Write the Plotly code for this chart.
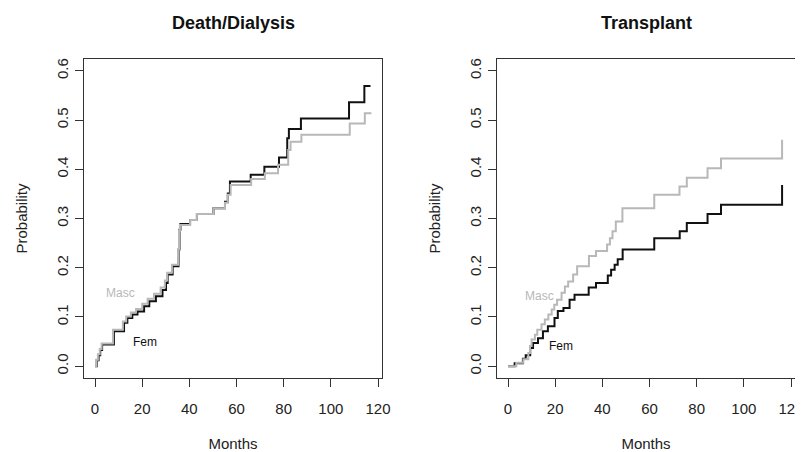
import plotly.graph_objects as go

# ---- Data ----
# Left panel: Death/Dialysis, cumulative probability step functions
dd_fem_t = [0, 0.7, 1.5, 2.2, 3.0, 8.0, 12.3, 13.7, 15.8, 18.0, 20.8, 23.0, 25.8, 28.6,
            30.1, 30.8, 32.9, 35.4, 35.8, 36.2, 40.3, 43.2, 50.2, 55.1, 56.3, 57.2,
            66.0, 71.8, 78.0, 81.5, 82.2, 87.3, 107.7, 114.2]
dd_fem_p = [0, 0.012, 0.022, 0.033, 0.044, 0.071, 0.088, 0.098, 0.105, 0.111, 0.122, 0.132,
            0.142, 0.155, 0.169, 0.186, 0.203, 0.237, 0.277, 0.289, 0.297, 0.309, 0.321,
            0.334, 0.351, 0.375, 0.389, 0.405, 0.424, 0.463, 0.482, 0.503, 0.536, 0.569]
dd_fem_end = 116.8

dd_masc_t = [0, 0.5, 1.2, 2.0, 2.8, 7.6, 11.8, 13.2, 15.2, 17.4, 20.0, 22.3, 25.0, 27.8,
             29.6, 30.6, 32.6, 35.2, 35.6, 36.0, 40.3, 43.2, 50.2, 55.1, 56.3, 57.5,
             66.2, 72.0, 77.6, 81.9, 82.9, 87.5, 108.0, 114.4]
dd_masc_p = [0, 0.013, 0.024, 0.035, 0.046, 0.074, 0.091, 0.101, 0.109, 0.116, 0.127, 0.137,
             0.147, 0.160, 0.174, 0.190, 0.206, 0.237, 0.275, 0.287, 0.297, 0.309, 0.321,
             0.332, 0.348, 0.368, 0.380, 0.392, 0.409, 0.439, 0.456, 0.470, 0.493, 0.514]
dd_masc_end = 117.2

# Right panel: Transplant
tx_fem_t = [0, 2.8, 6.3, 7.5, 9.4, 10.6, 12.7, 14.8, 16.9, 19.7, 21.1, 23.5, 26.1, 28.2,
            34.2, 37.3, 42.3, 43.7, 45.2, 46.5, 48.6, 62.0, 72.8, 75.8, 84.6, 90.3, 116.2]
tx_fem_p = [0, 0.006, 0.015, 0.022, 0.037, 0.047, 0.057, 0.071, 0.081, 0.098, 0.112, 0.118,
            0.135, 0.145, 0.160, 0.169, 0.184, 0.196, 0.206, 0.217, 0.237, 0.260, 0.274,
            0.291, 0.309, 0.328, 0.368]
tx_fem_end = 116.2

tx_masc_t = [0, 3.5, 6.5, 8.6, 9.3, 10.0, 11.4, 12.4, 14.2, 15.6, 17.1, 18.5, 19.6, 20.8,
             22.7, 24.1, 25.5, 27.6, 29.3, 34.3, 37.3, 42.0, 43.2, 44.3, 45.7, 48.5, 62.0,
             72.7, 75.8, 84.6, 90.3, 116.2]
tx_masc_p = [0, 0.007, 0.014, 0.027, 0.041, 0.054, 0.064, 0.074, 0.085, 0.095, 0.105, 0.115,
             0.125, 0.135, 0.149, 0.162, 0.172, 0.186, 0.203, 0.224, 0.234, 0.247, 0.260,
             0.274, 0.294, 0.321, 0.348, 0.365, 0.383, 0.402, 0.422, 0.460]
tx_masc_end = 116.2

panel_titles = ["Death/Dialysis", "Transplant"]
group_labels = ["Fem", "Masc"]
x_ticks = [0, 20, 40, 60, 80, 100, 120]
y_ticks = [0.0, 0.1, 0.2, 0.3, 0.4, 0.5, 0.6]
y_tick_text = ["0.0", "0.1", "0.2", "0.3", "0.4", "0.5", "0.6"]

# label positions (data coords) for the in-plot group labels
label_pos = {
    ("x", "Masc"): (11.0, 0.149), ("x", "Fem"): (21.2, 0.050),
    ("x2", "Masc"): (13.4, 0.143), ("x2", "Fem"): (22.3, 0.040),
}

FEM_COL = "#111111"
MASC_COL = "#b8b8b8"
FONT = "Liberation Sans, Arial, Helvetica, sans-serif"

# The page body has an 8px default margin, so the figure is 8px smaller on each axis
# and all positions are expressed relative to the figure's own origin.
OFF = 8
W, H = 803 - OFF, 452 - OFF


def ext(t, p, end):
    t = list(t)
    p = list(p)
    if end > t[-1]:
        t.append(end)
        p.append(p[-1])
    return t, p


fig = go.Figure()
panels = [
    ("x", "y", (dd_fem_t, dd_fem_p, dd_fem_end), (dd_masc_t, dd_masc_p, dd_masc_end)),
    ("x2", "y2", (tx_fem_t, tx_fem_p, tx_fem_end), (tx_masc_t, tx_masc_p, tx_masc_end)),
]
for xa, ya, fem, masc in panels:
    for (t, p, e), col in [(fem, FEM_COL), (masc, MASC_COL)]:
        tt, pp = ext(t, p, e)
        fig.add_trace(go.Scatter(x=tt, y=pp, mode="lines", line=dict(color=col, width=2, shape="hv"),
                                 xaxis=xa, yaxis=ya, showlegend=False, hoverinfo="skip"))

xr = [-4.68, 121.68]
yr = [-0.024, 0.624]
common_x = dict(range=xr, tickvals=x_ticks, ticks="outside", ticklen=8, tickwidth=1, tickcolor="#333",
                showline=True, linecolor="#333", linewidth=1, mirror=True, showgrid=False, zeroline=False,
                automargin=False, ticklabeloverflow="allow",
                tickfont=dict(size=15, color="#222", family=FONT), ticklabelstandoff=9,
                title=dict(text="Months", font=dict(size=15, color="#222", family=FONT), standoff=25))
common_y = dict(range=yr, tickvals=y_ticks, ticktext=y_tick_text, ticks="outside", ticklen=8, tickwidth=1,
                tickcolor="#333", showline=True, linecolor="#333", linewidth=1, mirror=True, showgrid=False,
                zeroline=False, tickangle=-90, tickfont=dict(size=15, color="#222", family=FONT),
                ticklabelstandoff=1, automargin=False,
                title=dict(text="Probability", font=dict(size=15, color="#222", family=FONT), standoff=22))


def px_x(v):
    return (v - OFF) / W


def px_y(v):
    return 1 - (v - OFF) / H


ydom = [px_y(378), px_y(59)]
fig.update_layout(
    width=W, height=H, margin=dict(l=0, r=0, t=0, b=0, autoexpand=False),
    paper_bgcolor="white", plot_bgcolor="white",
    xaxis=dict(domain=[px_x(84), px_x(382)], anchor="y", **common_x),
    yaxis=dict(domain=ydom, anchor="x", **common_y),
    xaxis2=dict(domain=[px_x(497), px_x(795)], anchor="y2", **common_x),
    yaxis2=dict(domain=ydom, anchor="x2", **common_y),
    font=dict(family=FONT),
)

title_x = [px_x((84 + 382) / 2), px_x((497 + 795) / 2)]
for tx, txt in zip(title_x, panel_titles):
    fig.add_annotation(text="<b>%s</b>" % txt, x=tx, y=px_y(23), xref="paper", yref="paper",
                       showarrow=False, font=dict(size=18, color="#111", family=FONT),
                       xanchor="center", yanchor="middle")

for (xa, g), (lx, ly) in label_pos.items():
    ya = "y" if xa == "x" else "y2"
    fig.add_annotation(text=g, x=lx, y=ly, xref=xa, yref=ya, showarrow=False,
                       font=dict(size=12, color=(FEM_COL if g == "Fem" else MASC_COL), family=FONT),
                       xanchor="center", yanchor="middle")

fig.write_html("out.html")
